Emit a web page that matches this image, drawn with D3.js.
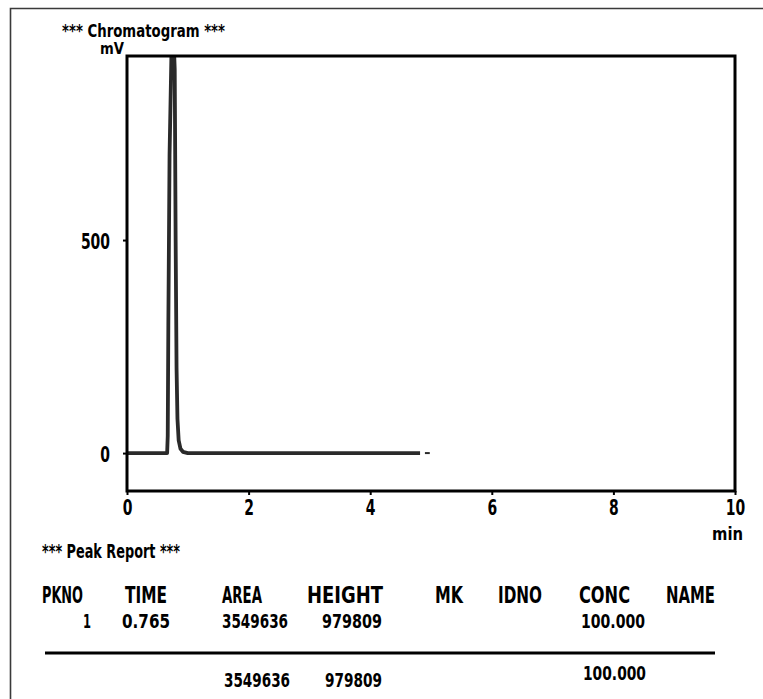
<!DOCTYPE html>
<html><head><meta charset="utf-8">
<script src="https://cdn.jsdelivr.net/npm/d3@7"></script>
<style>
html,body{margin:0;padding:0;background:#fff;}
svg{display:block;}
text{font-family:"Liberation Sans Narrow","Arial Narrow","DejaVu Sans Condensed",sans-serif;font-weight:bold;fill:#000;}
</style>
</head><body>
<svg id="c" width="763" height="699"></svg>
<script>
// ---- data ----
const timeMin  = [0, 0.3, 0.66, 0.67, 0.68, 0.70, 0.73, 0.765, 0.785, 0.80, 0.815, 0.83, 0.85, 0.88, 0.92, 1.0, 2.0, 3.0, 4.0, 4.82];
const signalMV = [0, 0,   0,    40,   300,  700,  930,  979.8, 900,   500,  200,   80,   30,   10,   3,    0,   0,   0,   0,   0];
const tailTime = [4.9, 4.98];
const tailMV   = [0, 0];
const xTicks = [0, 2, 4, 6, 8, 10];
const yTicks = [0, 500];
const xDomain = [0, 10];
const yDomain = [-89, 932];
const xUnit = "min";
const yUnit = "mV";
const chartTitle = "*** Chromatogram ***";
const reportTitle = "*** Peak Report ***";
const reportHeaders = ["PKNO", "TIME", "AREA", "HEIGHT", "MK", "IDNO", "CONC", "NAME"];
const peakRow  = ["1", "0.765", "3549636", "979809", "", "", "100.000", ""];
const totalRow = ["", "", "3549636", "979809", "", "", "100.000", ""];

// ---- layout ----
const P = {l: 127, r: 735, t: 56, b: 491};
const headerPos = [[42,41],[125,42],[222,40],[307,76],[435,28],[498,44],[579,51],[666,49]];
const rowPos    = [[83,8],[122,48],[222,66],[322,60],null,null,[581,64],null];
const totalPos  = [null,null,[224,66],[325,57],null,null,[583,63],null];
const totalBase = [null,null,687,687,null,null,680,null];
const FONT = '"Liberation Sans Narrow","Arial Narrow","DejaVu Sans Condensed",sans-serif';
const digitW = 9.7;

const svg = d3.select("#c");
svg.append("rect").attr("width",763).attr("height",699).attr("fill","#fff");

// outer frame (cut by the viewport on right and bottom)
svg.append("path").attr("d","M10.5,699V8.5H763").attr("fill","none").attr("stroke","#3a3a3a").attr("stroke-width",1.6);

function txt(x, y, s, size, w) {
  const t = svg.append("text").attr("x", x).attr("y", y).attr("font-size", size).text(s);
  if (w) t.attr("textLength", w).attr("lengthAdjust", "spacingAndGlyphs");
  return t;
}

const x = d3.scaleLinear().domain(xDomain).range([P.l, P.r]);
const y = d3.scaleLinear().domain(yDomain).range([P.b, P.t]);

// clip
svg.append("clipPath").attr("id","clip").append("rect")
  .attr("x",P.l).attr("y",P.t).attr("width",P.r-P.l).attr("height",P.b-P.t);

// trace
const pts = timeMin.map((t,i)=>[t, signalMV[i]]);
const line = d3.line().x(d=>x(d[0])).y(d=>y(d[1]));
svg.append("path").datum(pts).attr("d", line).attr("clip-path","url(#clip)")
  .attr("fill","none").attr("stroke","#2a2a2a").attr("stroke-width",3.8).attr("stroke-linejoin","round");
const tail = tailTime.map((t,i)=>[t, tailMV[i]]);
svg.append("path").datum(tail).attr("d", line)
  .attr("fill","none").attr("stroke","#2a2a2a").attr("stroke-width",2);

function styleLabels(sel, dy) {
  sel.selectAll("text").attr("font-size",21).attr("dy",dy).attr("fill","#000")
    .style("font-family",FONT).style("font-weight","bold")
    .attr("textLength", function(){ return this.textContent.length * digitW; })
    .attr("lengthAdjust","spacingAndGlyphs");
}

// axes
const yAxis = d3.axisLeft(y).tickValues(yTicks).tickSize(4).tickPadding(13).tickFormat(d3.format("d"));
const gy = svg.append("g").attr("transform",`translate(${P.l},0)`).call(yAxis);
gy.select(".domain").remove();
gy.selectAll("line").attr("stroke","#000").attr("stroke-width",2);
styleLabels(gy, "0.4em");

const xAxis = d3.axisBottom(x).tickValues(xTicks).tickSize(4).tickPadding(7).tickFormat(d3.format("d"));
const gx = svg.append("g").attr("transform",`translate(0,${P.b})`).call(xAxis);
gx.select(".domain").remove();
gx.selectAll("line").attr("stroke","#000").attr("stroke-width",2);
styleLabels(gx, "0.62em");

// plot frame
svg.append("rect").attr("x",P.l).attr("y",P.t).attr("width",P.r-P.l).attr("height",P.b-P.t)
  .attr("fill","none").attr("stroke","#000").attr("stroke-width",3);

// titles / units
txt(62, 37, chartTitle, 18, 163);
txt(100, 54, yUnit, 15, 24);
txt(712, 540, xUnit, 18, 31);

// report
txt(42, 558, reportTitle, 19, 138);
reportHeaders.forEach((h,i)=>{ const p = headerPos[i]; txt(p[0], 603, h, 23, p[1]); });
peakRow.forEach((v,i)=>{ const p = rowPos[i]; if (p && v) txt(p[0], 628, v, 19, p[1]); });
svg.append("line").attr("x1",45).attr("x2",715).attr("y1",653).attr("y2",653)
  .attr("stroke","#000").attr("stroke-width",3);
totalRow.forEach((v,i)=>{ const p = totalPos[i]; if (p && v) txt(p[0], totalBase[i], v, 19, p[1]); });
</script>
</body></html>
